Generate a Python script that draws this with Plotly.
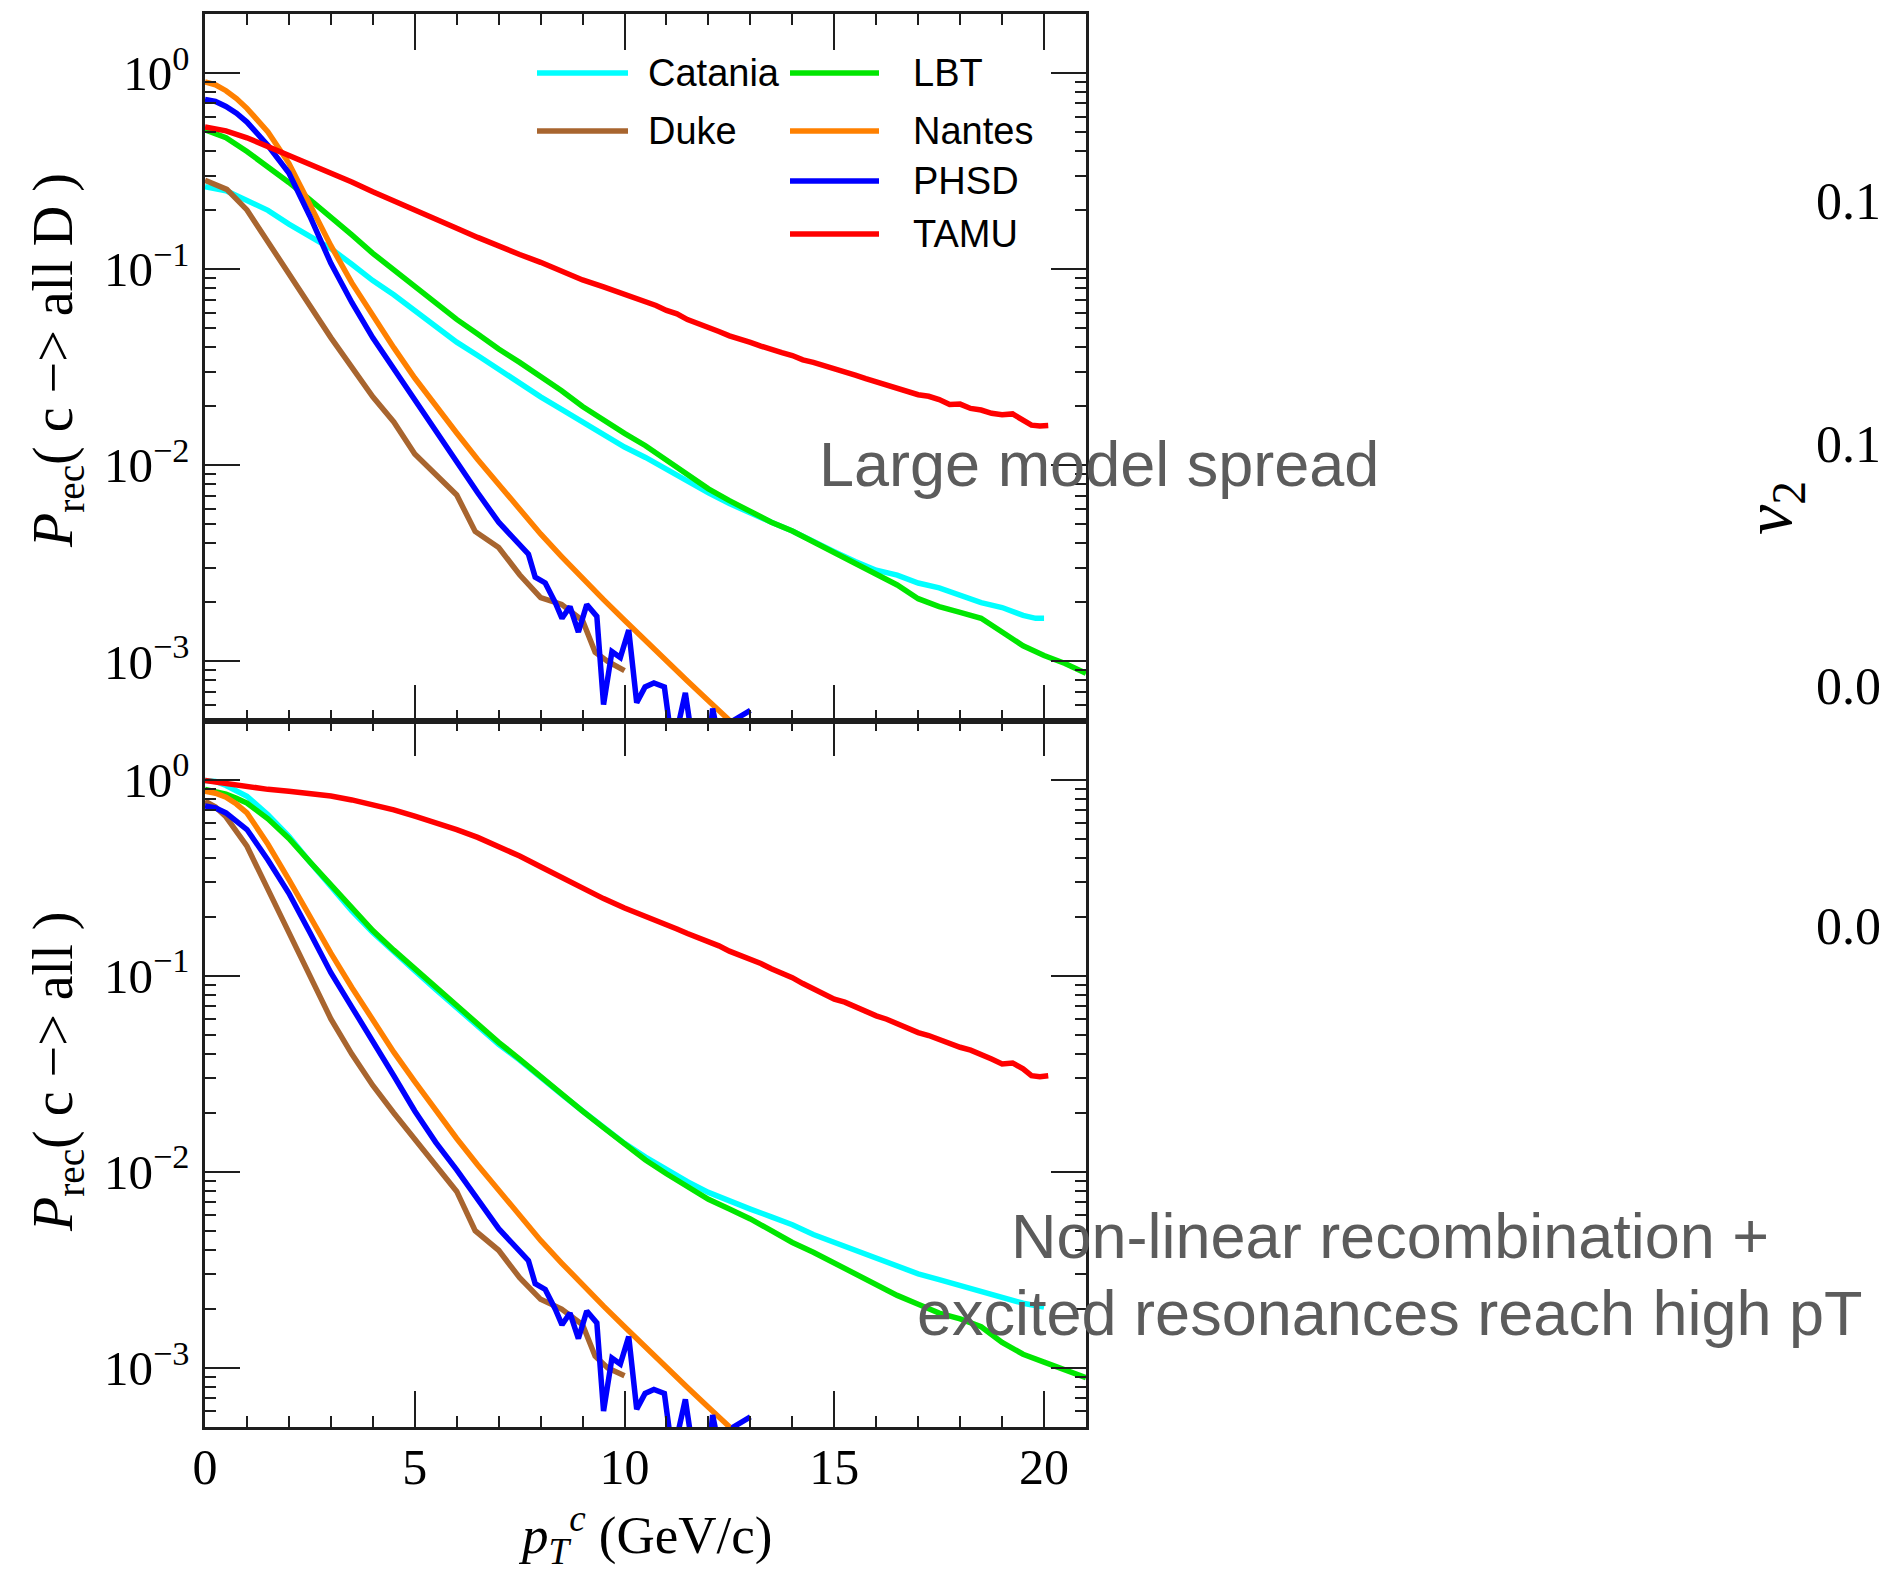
import math
import plotly.graph_objects as go
from plotly.subplots import make_subplots

# ---------------------------------------------------------------------------
# Canvas / plot-area geometry (pixels)
# ---------------------------------------------------------------------------
FIG_W, FIG_H = 1880, 1570
M_L, M_R, M_T, M_B = 205, 794, 14, 143
PLOT_W = FIG_W - M_L - M_R
PLOT_H = FIG_H - M_T - M_B

X_RANGE = [0, 21]
Y_RANGE = [math.log10(5e-4), math.log10(2.0)]

COLORS = {
    "Catania": "#00ffff",
    "Duke": "#a8652f",
    "LBT": "#00e600",
    "Nantes": "#ff8000",
    "PHSD": "#0000ff",
    "TAMU": "#ff0000",
}

# ---------------------------------------------------------------------------
# Recombination probability vs charm pT, stored as (pT [GeV/c], log10 P_rec)
# Upper panel: c -> all D
# ---------------------------------------------------------------------------
catania_all_D = [
    (0, -0.58), (0.5, -0.60), (1, -0.65), (1.5, -0.70), (2, -0.77), (2.5, -0.83),
    (3, -0.895), (3.5, -0.975), (4, -1.058), (4.5, -1.13), (5, -1.209), (5.5, -1.29),
    (6, -1.372), (6.5, -1.44), (7, -1.512), (7.5, -1.58), (8, -1.651), (8.5, -1.715),
    (9, -1.779), (9.5, -1.84), (10, -1.907), (10.5, -1.96), (11, -2.02), (11.5, -2.085),
    (12, -2.14), (12.5, -2.195), (13, -2.245), (13.5, -2.29), (14, -2.335), (14.5, -2.39),
    (15, -2.44), (15.5, -2.49), (16, -2.535), (16.5, -2.56), (17, -2.60), (17.5, -2.625),
    (18, -2.665), (18.5, -2.70), (19, -2.725), (19.5, -2.765), (19.8, -2.78), (20.0, -2.78),
]
lbt_all_D = [
    (0, -0.29), (0.5, -0.33), (1, -0.40), (1.5, -0.475), (2, -0.558), (2.5, -0.645),
    (3, -0.733), (3.5, -0.825), (4, -0.919), (4.5, -1.005), (5, -1.093), (5.5, -1.175),
    (6, -1.256), (6.5, -1.33), (7, -1.407), (7.5, -1.475), (8, -1.547), (8.5, -1.62),
    (9, -1.70), (9.5, -1.77), (10, -1.837), (10.5, -1.90), (11, -1.975), (11.5, -2.05),
    (12, -2.12), (12.5, -2.18), (13, -2.235), (13.5, -2.29), (14, -2.335), (14.5, -2.39),
    (15, -2.44), (15.5, -2.50), (16, -2.555), (16.5, -2.61), (17, -2.68), (17.5, -2.72),
    (18, -2.75), (18.5, -2.78), (19, -2.85), (19.5, -2.92), (20, -2.97), (20.5, -3.01),
    (21, -3.06),
]
duke_all_D = [
    (0, -0.547), (0.52, -0.593), (1, -0.698), (2, -1.023), (3, -1.349), (4, -1.651),
    (4.5, -1.779), (5, -1.942), (5.5, -2.047), (6, -2.151), (6.44, -2.337), (7, -2.419),
    (7.5, -2.558), (8, -2.674), (8.5, -2.709), (9, -2.791), (9.3, -2.953), (9.6, -3.0),
    (10, -3.047),
]
nantes_all_D = [
    (0, -0.045), (0.25, -0.06), (0.5, -0.09), (0.75, -0.13), (1, -0.18), (1.5, -0.30),
    (2, -0.46), (2.5, -0.67), (3, -0.88), (3.5, -1.07), (4, -1.24), (4.5, -1.40),
    (5, -1.555), (5.5, -1.70), (6, -1.835), (6.5, -1.97), (7, -2.10), (7.5, -2.225),
    (8, -2.35), (8.5, -2.465), (9, -2.58), (9.5, -2.685), (10, -2.79), (10.5, -2.895),
    (11, -3.0), (11.5, -3.10), (12, -3.20), (12.5, -3.30), (13, -3.40),
]
phsd_all_D = [
    (0, -0.135), (0.25, -0.145), (0.5, -0.17), (0.75, -0.205), (1, -0.25), (1.5, -0.37),
    (2, -0.51), (2.5, -0.73), (3, -0.97), (3.5, -1.17), (4, -1.35), (4.5, -1.51),
    (5, -1.66), (5.5, -1.83), (6, -1.99), (6.5, -2.14), (7, -2.29), (7.51, -2.407),
    (7.71, -2.453), (7.87, -2.57), (8.11, -2.60), (8.35, -2.70), (8.51, -2.78),
    (8.70, -2.72), (8.90, -2.85), (9.10, -2.71), (9.34, -2.77), (9.50, -3.22),
    (9.70, -2.95), (9.90, -2.98), (10.10, -2.84), (10.29, -3.21), (10.49, -3.13),
    (10.7, -3.11), (10.95, -3.13), (11.15, -3.45), (11.45, -3.16), (11.65, -3.45),
    (12.0, -3.45), (12.1, -3.24), (12.3, -3.45), (12.6, -3.30), (13.0, -3.25),
]
tamu_all_D = [
    (0, -0.275), (0.5, -0.295), (1, -0.33), (1.5, -0.375), (2, -0.423), (2.5, -0.465),
    (3, -0.507), (3.5, -0.555), (4, -0.605), (4.5, -0.65), (5, -0.698), (5.5, -0.745),
    (6, -0.791), (6.5, -0.838), (7, -0.884), (7.5, -0.925), (8, -0.965), (8.5, -1.01),
    (9, -1.055), (9.5, -1.09), (10.0, -1.128), (10.25, -1.145), (10.5, -1.168),
    (10.75, -1.185), (11.0, -1.21), (11.25, -1.228), (11.5, -1.257), (11.75, -1.275),
    (12.0, -1.30), (12.25, -1.318), (12.5, -1.34), (12.75, -1.36), (13.0, -1.373),
    (13.25, -1.392), (13.5, -1.405), (13.75, -1.425), (14.0, -1.44), (14.25, -1.462),
    (14.5, -1.475), (14.75, -1.49), (15.0, -1.51), (15.25, -1.522), (15.5, -1.54),
    (15.75, -1.558), (16.0, -1.575), (16.25, -1.585), (16.5, -1.605), (16.75, -1.62),
    (17.0, -1.64), (17.25, -1.648), (17.5, -1.665), (17.75, -1.69), (18.0, -1.688),
    (18.25, -1.71), (18.5, -1.718), (18.75, -1.735), (19.0, -1.742), (19.25, -1.738),
    (19.5, -1.77), (19.7, -1.795), (19.9, -1.80), (20.1, -1.797),
]

# Lower panel: c -> all hadrons
catania_all = [
    (0, -0.005), (0.25, -0.01), (0.5, -0.03), (0.75, -0.055), (1, -0.085), (1.5, -0.18),
    (2, -0.29), (2.5, -0.42), (3, -0.55), (3.5, -0.67), (4, -0.78), (4.5, -0.88),
    (5, -0.975), (5.5, -1.07), (6, -1.165), (6.5, -1.26), (7, -1.35), (7.5, -1.43),
    (8, -1.52), (8.5, -1.605), (9, -1.69), (9.5, -1.775), (10, -1.855), (10.5, -1.925),
    (11, -1.99), (11.5, -2.05), (12, -2.105), (12.5, -2.15), (13, -2.19), (13.5, -2.23),
    (14, -2.27), (14.5, -2.32), (15, -2.36), (15.5, -2.40), (16, -2.445), (16.5, -2.485),
    (17, -2.52), (17.5, -2.55), (18, -2.58), (18.5, -2.61), (19, -2.645), (19.5, -2.67),
    (20, -2.69),
]
lbt_all = [
    (0, -0.05), (0.25, -0.06), (0.5, -0.075), (0.75, -0.095), (1, -0.12), (1.5, -0.20),
    (2, -0.30), (2.5, -0.42), (3, -0.54), (3.5, -0.66), (4, -0.77), (4.5, -0.87),
    (5, -0.965), (5.5, -1.06), (6, -1.155), (6.5, -1.25), (7, -1.34), (7.5, -1.425),
    (8, -1.515), (8.5, -1.60), (9, -1.69), (9.5, -1.775), (10, -1.86), (10.5, -1.94),
    (11, -2.01), (11.5, -2.075), (12, -2.14), (12.5, -2.19), (13, -2.24), (13.5, -2.30),
    (14, -2.36), (14.5, -2.41), (15, -2.465), (15.5, -2.52), (16, -2.57), (16.5, -2.63),
    (17, -2.675), (17.5, -2.72), (18, -2.75), (18.5, -2.79), (19, -2.87), (19.5, -2.93),
    (20, -2.97), (20.5, -3.01), (21, -3.05),
]
duke_all = [
    (0, -0.11), (0.25, -0.14), (0.5, -0.19), (0.75, -0.26), (1, -0.34), (1.5, -0.56),
    (2, -0.78), (2.5, -1.0), (3, -1.22), (3.5, -1.40), (4, -1.56), (4.5, -1.70),
    (5, -1.83), (5.5, -1.97), (6, -2.10), (6.44, -2.30), (7, -2.40), (7.5, -2.54),
    (8, -2.65), (8.5, -2.70), (9, -2.78), (9.3, -2.94), (9.6, -3.0), (10, -3.04),
]
nantes_all = [
    (0, -0.06), (0.25, -0.07), (0.5, -0.09), (0.75, -0.125), (1, -0.17), (1.5, -0.33),
    (2, -0.51), (2.5, -0.70), (3, -0.885), (3.5, -1.06), (4, -1.23), (4.5, -1.39),
    (5, -1.54), (5.5, -1.69), (6, -1.83), (6.5, -1.965), (7, -2.095), (7.5, -2.225),
    (8, -2.35), (8.5, -2.465), (9, -2.58), (9.5, -2.685), (10, -2.79), (10.5, -2.895),
    (11, -3.0), (11.5, -3.10), (12, -3.20), (12.5, -3.30), (13, -3.40),
]
phsd_all = [
    (0, -0.135), (0.25, -0.145), (0.5, -0.17), (0.75, -0.21), (1, -0.255), (1.5, -0.41),
    (2, -0.58), (2.5, -0.78), (3, -0.985), (3.5, -1.16), (4, -1.33), (4.5, -1.51),
    (5, -1.69), (5.5, -1.85), (6, -1.99), (6.5, -2.14), (7, -2.29), (7.51, -2.407),
    (7.71, -2.453), (7.87, -2.57), (8.11, -2.60), (8.35, -2.70), (8.51, -2.78),
    (8.70, -2.72), (8.90, -2.85), (9.10, -2.71), (9.34, -2.77), (9.50, -3.22),
    (9.70, -2.95), (9.90, -2.98), (10.10, -2.84), (10.29, -3.21), (10.49, -3.13),
    (10.7, -3.11), (10.95, -3.13), (11.15, -3.45), (11.45, -3.16), (11.65, -3.45),
    (12.0, -3.45), (12.1, -3.24), (12.3, -3.45), (12.6, -3.30), (13.0, -3.25),
]
tamu_all = [
    (0, -0.005), (0.5, -0.02), (1, -0.038), (1.5, -0.05), (2, -0.06), (2.5, -0.07),
    (3, -0.084), (3.5, -0.104), (4, -0.128), (4.5, -0.155), (5, -0.187), (5.5, -0.22),
    (6, -0.255), (6.5, -0.295), (7, -0.34), (7.5, -0.39), (8, -0.445), (8.5, -0.50),
    (9, -0.555), (9.5, -0.607), (10, -0.655), (10.25, -0.675), (10.5, -0.70),
    (10.75, -0.715), (11, -0.74), (11.25, -0.762), (11.5, -0.785), (11.75, -0.805),
    (12, -0.83), (12.25, -0.848), (12.5, -0.875), (12.75, -0.895), (13, -0.92),
    (13.25, -0.938), (13.5, -0.965), (13.75, -0.985), (14, -1.01), (14.25, -1.04),
    (14.5, -1.065), (14.75, -1.09), (15, -1.12), (15.25, -1.135), (15.5, -1.16),
    (15.75, -1.18), (16, -1.205), (16.25, -1.222), (16.5, -1.245), (16.75, -1.268),
    (17, -1.29), (17.25, -1.305), (17.5, -1.325), (17.75, -1.35), (18, -1.365),
    (18.25, -1.38), (18.5, -1.40), (18.75, -1.425), (19, -1.45), (19.25, -1.445),
    (19.5, -1.475), (19.7, -1.51), (19.9, -1.515), (20.1, -1.51),
]

PANELS = {
    1: [("Catania", catania_all_D), ("Duke", duke_all_D), ("LBT", lbt_all_D),
        ("Nantes", nantes_all_D), ("PHSD", phsd_all_D), ("TAMU", tamu_all_D)],
    2: [("Catania", catania_all), ("Duke", duke_all), ("LBT", lbt_all),
        ("Nantes", nantes_all), ("PHSD", phsd_all), ("TAMU", tamu_all)],
}

X_TICKS = [0, 5, 10, 15, 20]
Y_TICKS = [1e-3, 1e-2, 1e-1, 1.0]
Y_TICKTEXT = ["10<sup>\u22123</sup>", "10<sup>\u22122</sup>", "10<sup>\u22121</sup>", "10<sup>0</sup>"]
Y_MINOR = [k * 10.0 ** e for e in range(-4, 1) for k in range(2, 10)]

# legend layout: two columns of entries
LEGEND_COLS = [["Catania", "Duke"], ["LBT", "Nantes", "PHSD", "TAMU"]]

# companion-panel fragment on the right edge
V2_TICKS = ["0.15", "0.10", "0.05", "0.00"]

SERIF = "Liberation Serif, Times New Roman, serif"
SANS = "Liberation Sans, Helvetica, Arial, sans-serif"
AXIS_COLOR = "#1e1e1e"


def px_x(px):
    return (px - M_L) / PLOT_W


def px_y(py):
    return (FIG_H - M_B - py) / PLOT_H


fig = make_subplots(rows=2, cols=1, shared_xaxes=True, vertical_spacing=0)

draw_order = ["Catania", "LBT", "Duke", "Nantes", "PHSD", "TAMU"]
for row, series in PANELS.items():
    lookup = dict(series)
    for name in draw_order:
        pts = lookup[name]
        fig.add_trace(
            go.Scatter(
                x=[p[0] for p in pts],
                y=[10 ** p[1] for p in pts],
                mode="lines",
                name=name,
                line=dict(color=COLORS[name], width=5.5),
                showlegend=False,
                hoverinfo="skip",
            ),
            row=row, col=1,
        )

common = dict(
    showline=True, linecolor=AXIS_COLOR, linewidth=2.5, mirror="allticks",
    ticks="inside", tickcolor=AXIS_COLOR, tickwidth=2, showgrid=False, zeroline=False,
)
for row in (1, 2):
    fig.update_xaxes(
        range=X_RANGE, tickmode="array", tickvals=X_TICKS, ticklen=36,
        minor=dict(dtick=1, tick0=0, ticks="inside", ticklen=11, tickwidth=1.5,
                   tickcolor=AXIS_COLOR),
        tickfont=dict(family=SERIF, size=50, color="black"),
        ticklabelstandoff=-6,
        row=row, col=1, **common,
    )
    fig.update_yaxes(
        type="log", range=Y_RANGE, tickmode="array", tickvals=Y_TICKS,
        ticktext=Y_TICKTEXT, ticklen=35,
        minor=dict(tickmode="array", tickvals=Y_MINOR, ticks="inside", ticklen=11,
                   tickwidth=1.5, tickcolor=AXIS_COLOR),
        tickfont=dict(family=SERIF, size=49, color="black"),
        ticklabelstandoff=3,
        row=row, col=1, **common,
    )
fig.update_xaxes(showticklabels=False, row=1, col=1)

annotations = []
shapes = []

# axis titles
annotations.append(dict(
    text="<i>p</i><sub><i>T</i></sub><sup><i>c</i></sup> (GeV/c)",
    x=px_x(645), y=px_y(1535), xref="paper", yref="paper",
    showarrow=False, xanchor="center", yanchor="middle",
    font=dict(family=SERIF, size=53, color="black"),
))
for text, cy in (("<i>P</i><sub>rec</sub>( c \u2212> all D )", 361),
                 ("<i>P</i><sub>rec</sub>( c \u2212> all )", 1072)):
    annotations.append(dict(
        text=text, x=px_x(57), y=px_y(cy), xref="paper", yref="paper",
        showarrow=False, xanchor="center", yanchor="middle", textangle=-90,
        font=dict(family=SERIF, size=56, color="black"),
    ))

# legend, drawn as line samples with labels
legend_rows_y = [73, 131, 181, 234]
legend_cols_x = [(537, 628, 646), (790, 879, 911)]
for (x0, x1, xt), names in zip(legend_cols_x, LEGEND_COLS):
    for name, ly in zip(names, legend_rows_y):
        shapes.append(dict(
            type="line", xref="paper", yref="paper",
            x0=px_x(x0), x1=px_x(x1), y0=px_y(ly), y1=px_y(ly),
            line=dict(color=COLORS[name], width=5.5),
        ))
        annotations.append(dict(
            text=name, x=px_x(xt), y=px_y(ly), xref="paper", yref="paper",
            showarrow=False, xanchor="left", yanchor="middle",
            font=dict(family=SANS, size=38, color="black"),
        ))

# callouts
GREY = "#5c5c5c"
for text, cx, cy in (("Large model spread", 1099, 464),
                     ("Non-linear recombination +", 1390, 1236),
                     ("excited resonances reach high pT", 1390, 1313)):
    annotations.append(dict(
        text=text, x=px_x(cx), y=px_y(cy), xref="paper", yref="paper",
        showarrow=False, xanchor="center", yanchor="middle",
        font=dict(family=SANS, size=63, color=GREY),
    ))

# neighbouring v2 panel, cut by the right edge
annotations.append(dict(
    text="<i>v</i><sub>2</sub>", x=px_x(1773), y=px_y(508), xref="paper", yref="paper",
    showarrow=False, xanchor="center", yanchor="middle", textangle=-90,
    font=dict(family=SERIF, size=68, color="black"),
))
for label, cy in zip(V2_TICKS, (201, 444, 686, 927)):
    annotations.append(dict(
        text=label, x=px_x(1814), y=px_y(cy), xref="paper", yref="paper",
        showarrow=False, xanchor="left", yanchor="middle",
        font=dict(family=SERIF, size=52, color="black"),
    ))

fig.update_layout(
    width=FIG_W, height=FIG_H,
    margin=dict(l=M_L, r=M_R, t=M_T, b=M_B, pad=0),
    paper_bgcolor="white", plot_bgcolor="white",
    showlegend=False,
    annotations=annotations,
    shapes=shapes,
)

fig.write_html("out.html")
